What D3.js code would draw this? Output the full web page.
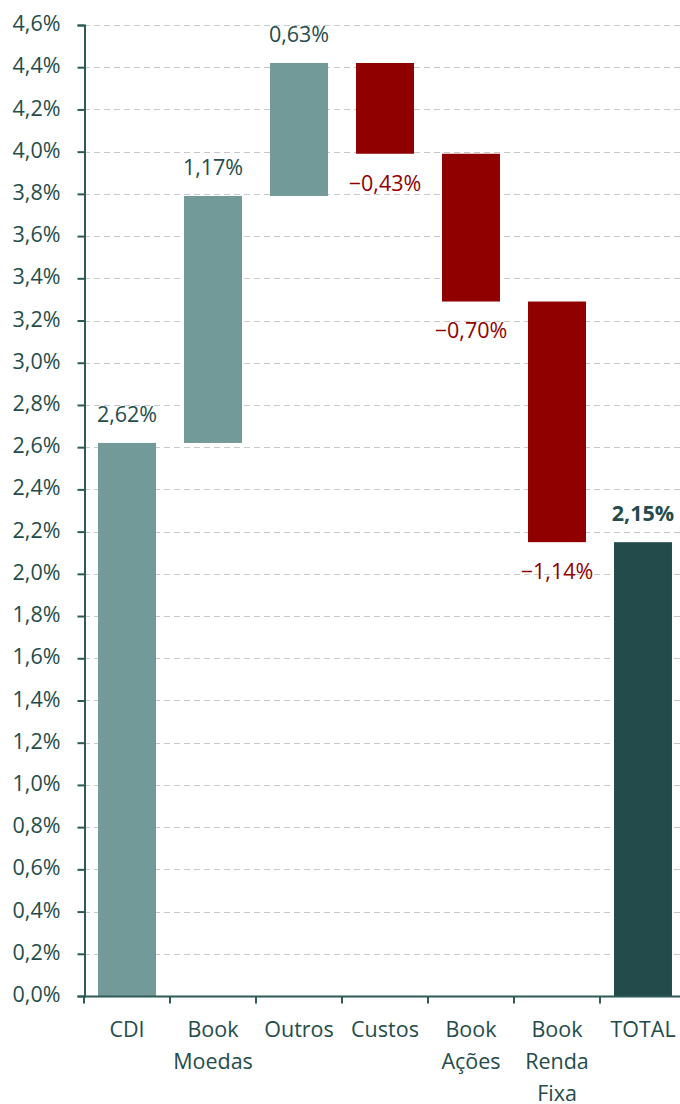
<!DOCTYPE html>
<html><head><meta charset="utf-8">
<script src="https://cdn.jsdelivr.net/npm/d3@7"></script>
<style>body{margin:0;background:#fff;} svg{display:block;font-family:"Open Sans",sans-serif;}</style>
</head><body>
<script>
const categories = [["CDI"],["Book","Moedas"],["Outros"],["Custos"],["Book","Ações"],["Book","Renda","Fixa"],["TOTAL"]];
const deltas = [2.62, 1.17, 0.63, -0.43, -0.70, -1.14, 2.15];
const labels = ["2,62%","1,17%","0,63%","\u22120,43%","\u22120,70%","\u22121,14%","2,15%"];
const kinds = ["start","up","up","down","down","down","total"];
const yTicks = d3.range(0, 4.61, 0.2);

const W=680,H=1104, FS=21.5;
const svg=d3.select("body").append("svg").attr("width",W).attr("height",H);
const x=d3.scaleBand().domain(d3.range(categories.length)).range([84,686]).paddingInner(0.326).paddingOuter(0.163);
const y=d3.scaleLinear().domain([0,4.6]).range([996,25]);
const axisCol="#2d5b58", textCol="#244c4b";

let run=0; const bars=deltas.map((d,i)=>{
  let y0,y1;
  if(kinds[i]==="total"){y0=0;y1=d;}
  else {y0=run; y1=run+d; run=y1;}
  return {i,y0,y1,lo:Math.min(y0,y1),hi:Math.max(y0,y1),kind:kinds[i],label:labels[i]};
});

svg.append("g").selectAll("line").data(yTicks.slice(1)).join("line")
  .attr("x1",84).attr("x2",680).attr("y1",d=>Math.round(y(d))+0.5).attr("y2",d=>Math.round(y(d))+0.5)
  .attr("stroke","#c8c8c8").attr("stroke-width",1).attr("stroke-dasharray","6,4");

const colors={start:"#729a98",up:"#729a98",down:"#900000",total:"#234b4b"};
svg.append("g").selectAll("rect").data(bars).join("rect")
  .attr("x",d=>x(d.i)).attr("width",x.bandwidth())
  .attr("y",d=>y(d.hi)).attr("height",d=>y(d.lo)-y(d.hi))
  .attr("fill",d=>colors[d.kind]);

svg.append("g").selectAll("text").data(bars).join("text")
  .attr("x",d=>x(d.i)+x.bandwidth()/2)
  .attr("y",d=>d.kind==="down"? y(d.lo)+29 : y(d.hi)-29)
  .attr("dy","0.36em").attr("text-anchor","middle")
  .attr("font-size",FS)
  .attr("font-weight",d=>d.kind==="total"?"bold":"normal")
  .attr("fill",d=>d.kind==="down"?"#900000":textCol)
  .text(d=>d.label);

const ya=svg.append("g").attr("transform","translate(84.5,0)")
  .call(d3.axisLeft(y).tickValues(yTicks).tickSize(7).tickPadding(17)
    .tickFormat(d=>d3.format(".1f")(d).replace(".",",")+"%"));
ya.select(".domain").attr("stroke",axisCol).attr("stroke-width",2);
ya.selectAll(".tick line").attr("stroke",axisCol).attr("stroke-width",2);
ya.selectAll("text").attr("font-size",FS).attr("fill",textCol).attr("font-family","Open Sans").attr("dy","0.26em");

const xa=svg.append("g").attr("transform","translate(0,996.5)");
xa.append("line").attr("x1",84).attr("x2",680).attr("stroke",axisCol).attr("stroke-width",2);
const bounds=d3.range(categories.length).map(i=>x(i)-x.step()*x.paddingInner()/2);
xa.selectAll("line.t").data(bounds).join("line").attr("class","t")
  .attr("x1",d=>Math.round(d)).attr("x2",d=>Math.round(d)).attr("y1",0).attr("y2",7)
  .attr("stroke",axisCol).attr("stroke-width",2);
const xl=xa.selectAll("text").data(categories).join("text")
  .attr("x",(d,i)=>x(i)+x.bandwidth()/2).attr("y",40.5)
  .attr("text-anchor","middle").attr("font-size",FS).attr("fill",textCol);
xl.selectAll("tspan").data(d=>d).join("tspan")
  .attr("x",function(){return this.parentNode.getAttribute("x");})
  .attr("dy",(d,i)=>i===0?0:32).text(d=>d);
</script>
</body></html>
